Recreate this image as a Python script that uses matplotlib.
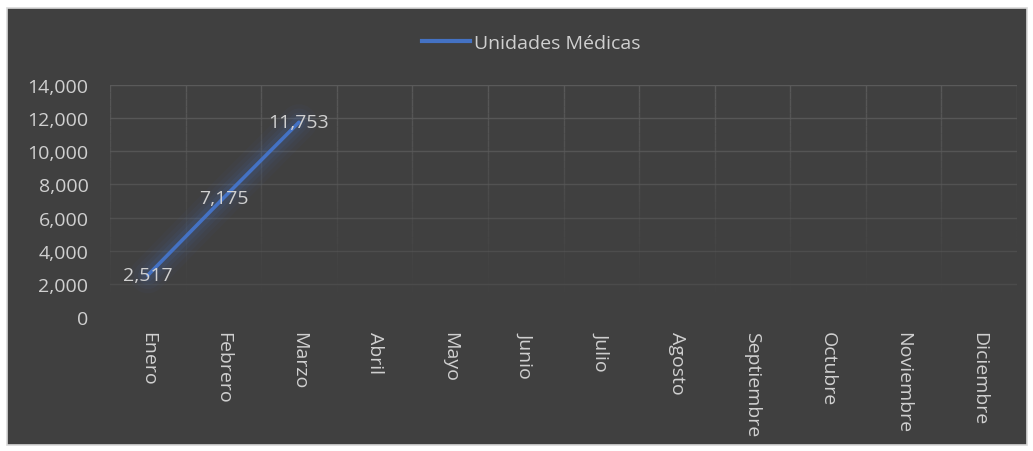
import matplotlib
matplotlib.use("Agg")
import matplotlib.pyplot as plt
from matplotlib.patches import Rectangle
from matplotlib.lines import Line2D
import numpy as np

months = ["Enero", "Febrero", "Marzo", "Abril", "Mayo", "Junio", "Julio",
          "Agosto", "Septiembre", "Octubre", "Noviembre", "Diciembre"]
values = [2517, 7175, 11753]
series_name = "Unidades Médicas"
yticks = [0, 2000, 4000, 6000, 8000, 10000, 12000, 14000]

W, H = 1033, 452
fig = plt.figure(figsize=(W / 100, H / 100), dpi=100)
fig.patch.set_facecolor("white")
plt.rcParams['font.family'] = ['Open Sans', 'DejaVu Sans']

bg = "#404040"
txt = "#d0d0d0"
fs = 14
fig.patches.append(Rectangle((7 / W, 1 - 446 / H), (1027 - 7) / W, (446 - 9) / H,
                             transform=fig.transFigure, facecolor=bg,
                             edgecolor="#d9d9d9", linewidth=1.2, zorder=-10))

left, right, top, bottom = 110, 1017, 86, 318
ax = fig.add_axes([left / W, 1 - bottom / H, (right - left) / W, (bottom - top) / H])
ax.set_zorder(5)
ax.set_facecolor("none")
ax.set_xlim(-0.5, 11.5)
ax.set_ylim(0, 14000)
for s in ax.spines.values():
    s.set_visible(False)

# gridlines with fade toward bottom
grid_col = np.array([0x5a, 0x5a, 0x5a]) / 255
for y in yticks[1:]:
    a = 0.35 + 0.65 * (y / 14000)
    ax.axhline(y, color=grid_col, alpha=a, linewidth=1.0, zorder=1)
nseg = 30
for i in range(13):
    xb = -0.5 + i
    ys = np.linspace(1500, 14000, nseg + 1)
    for k in range(nseg):
        a = 0.05 + 0.95 * ((ys[k] - 1500) / 12500) ** 1.2
        ax.plot([xb, xb], [ys[k], ys[k + 1]], color=grid_col, alpha=a,
                linewidth=1.0, zorder=1, solid_capstyle="butt")

x = np.arange(len(values))
# glow
for lw, a in [(26, 0.04), (20, 0.05), (14, 0.07), (9, 0.10)]:
    ax.plot(x, values, color="#4472c4", linewidth=lw, alpha=a,
            solid_capstyle="round", zorder=2)
ax.plot(x, values, color="#4472c4", linewidth=2.6, solid_capstyle="round", zorder=3)

for xi, v in zip(x, values):
    ax.text(xi, v, f"{v:,}", color=txt, fontsize=fs, ha="center", va="center", zorder=4)

ax.set_yticks(yticks)
ax.set_yticklabels([f"{t:,}" for t in yticks])
ax.set_xticks(range(len(months)))
ax.set_xticklabels(months, rotation=-90, va="top", ha="center")
ax.tick_params(axis="both", length=0, colors=txt, labelsize=fs)
ax.tick_params(axis="x", pad=10)
ax.tick_params(axis="y", pad=15.5)

handle = Line2D([0], [0], color="#4472c4", linewidth=3)
leg = fig.legend([handle], [series_name], loc="center left", bbox_to_anchor=(404 / W, 1 - 44 / H),
                 frameon=False, fontsize=fs, handlelength=2.5, handletextpad=0.2,
                 labelcolor=txt)

fig.savefig("out.png", dpi=100, facecolor=fig.get_facecolor())
